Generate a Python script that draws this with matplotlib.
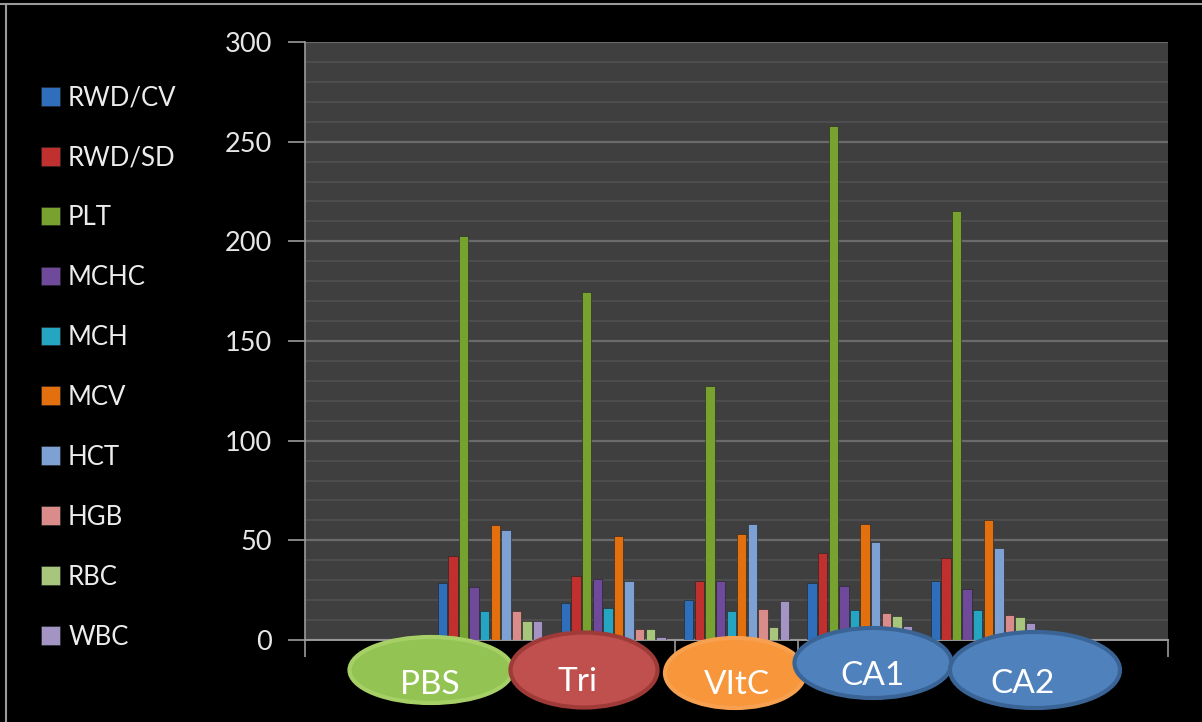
import numpy as np
import matplotlib
matplotlib.use("Agg")
import matplotlib.pyplot as plt
from matplotlib.patches import Ellipse, Patch
from matplotlib.lines import Line2D
from matplotlib.ticker import MultipleLocator

# data
groups = ["PBS", "Tri", "VItC", "CA1", "CA2"]
params = ["RWD/CV", "RWD/SD", "PLT", "MCHC", "MCH", "MCV", "HCT", "HGB", "RBC", "WBC"]
rwd_cv = [28.7, 18.4, 20.0, 28.7, 29.4]
rwd_sd = [42.0, 32.3, 29.4, 43.6, 41.0]
plt_v = [202.5, 174.6, 127.4, 257.9, 215.4]
mchc = [26.4, 30.4, 29.4, 27.1, 25.4]
mch = [14.7, 15.9, 14.7, 15.0, 15.0]
mcv = [57.7, 52.2, 53.2, 58.2, 60.2]
hct = [55.2, 29.4, 58.0, 49.2, 46.0]
hgb = [14.7, 5.5, 15.4, 13.7, 12.5]
rbc = [9.7, 5.5, 6.7, 12.0, 11.4]
wbc = [9.7, 1.5, 19.6, 7.0, 8.7]
series = [rwd_cv, rwd_sd, plt_v, mchc, mch, mcv, hct, hgb, rbc, wbc]

colors = ["#2f6eba", "#c0302e", "#77a22f", "#6f4a9b", "#26a5c2",
          "#e3700f", "#7da1d2", "#d98c8a", "#a8c57d", "#a394c4"]

# label badges under the axis: (x, y, w, h) in pixels, face, edge
badges = [
    (431, 670, 163, 66, "#92c353", "#a6d066"),
    (584, 670, 147, 75, "#c0504d", "#9e3b38"),
    (735, 673, 140, 70, "#f7963a", "#f7a050"),
    (873, 663, 157, 70, "#4f81bd", "#3a6496"),
    (1035, 670, 170, 76, "#4f81bd", "#3a6496"),
]
badge_text = [(430, 685), (577, 682), (737, 685), (872, 676), (1023, 684)]

W, H = 1202, 722
fig = plt.figure(figsize=(W / 100, H / 100), dpi=100, facecolor="black")
ax = fig.add_axes([305 / W, 1 - 640 / H, (1168 - 305) / W, (640 - 42) / H])
ax.set_facecolor("#3f3f3f")

x = np.arange(1, len(groups) + 1)
slot = 0.086
width = 0.076
for i, (vals, c) in enumerate(zip(series, colors)):
    off = (i - (len(series) - 1) / 2) * slot
    ax.bar(x + off, vals, width, color=c, edgecolor="#222222", linewidth=0.4,
           label=params[i], zorder=3)

ax.set_xlim(-0.5, 6.5)
ax.set_ylim(0, 300)
ax.yaxis.set_major_locator(MultipleLocator(50))
ax.yaxis.set_minor_locator(MultipleLocator(10))
ax.grid(axis="y", which="major", color="#6b6b6b", linewidth=1.6, zorder=1)
ax.grid(axis="y", which="minor", color="#4e4e4e", linewidth=1.4, zorder=1)
ax.set_axisbelow(True)

ax.set_xticks([])
ax.set_xticks(np.arange(-0.5, 7, 1), minor=True)
ax.tick_params(axis="x", which="minor", length=12, color="#9a9a9a", width=1.2,
               labelbottom=False)
ax.tick_params(axis="y", which="major", length=12, color="#9a9a9a", width=1.2,
               labelcolor="#e6e6e6", labelsize=19.5, pad=12)
ax.tick_params(axis="y", which="minor", length=0)
for lab in ax.get_yticklabels():
    lab.set_family("Lato")

for s in ["top", "right"]:
    ax.spines[s].set_visible(False)
ax.spines["left"].set_color("#9a9a9a")
ax.spines["bottom"].set_color("#9a9a9a")
ax.spines["left"].set_linewidth(1.2)
ax.spines["bottom"].set_linewidth(1.4)

handles = [Patch(facecolor=c, edgecolor="#222222", linewidth=0.4) for c in colors]
fig.legend(handles, params, loc="upper left", bbox_to_anchor=(18 / W, 1 - 62 / H),
           frameon=False, handlelength=0.75, handleheight=0.75, handletextpad=0.3,
           labelspacing=1.36, labelcolor="#ececec",
           prop={"family": "Lato", "size": 18.5})

for (cx, cy, w, h, fc, ec), (tx, ty), name in zip(badges, badge_text, groups):
    e = Ellipse((cx / W, 1 - cy / H), w / W, h / H, transform=fig.transFigure,
                facecolor=fc, edgecolor=ec, linewidth=3, zorder=10)
    fig.add_artist(e)
    fig.text(tx / W, 1 - ty / H, name, color="white", ha="center", va="center",
             fontsize=24, family="Lato", zorder=11)

# thin frame lines along top and left edge
fig.add_artist(Line2D([0, 1], [1 - 4 / H, 1 - 4 / H], transform=fig.transFigure,
                      color="#9a9a9a", linewidth=1.5))
fig.add_artist(Line2D([6 / W, 6 / W], [0, 1 - 4 / H], transform=fig.transFigure,
                      color="#9a9a9a", linewidth=1.5))

fig.savefig("out.png", dpi=100, facecolor="black")
